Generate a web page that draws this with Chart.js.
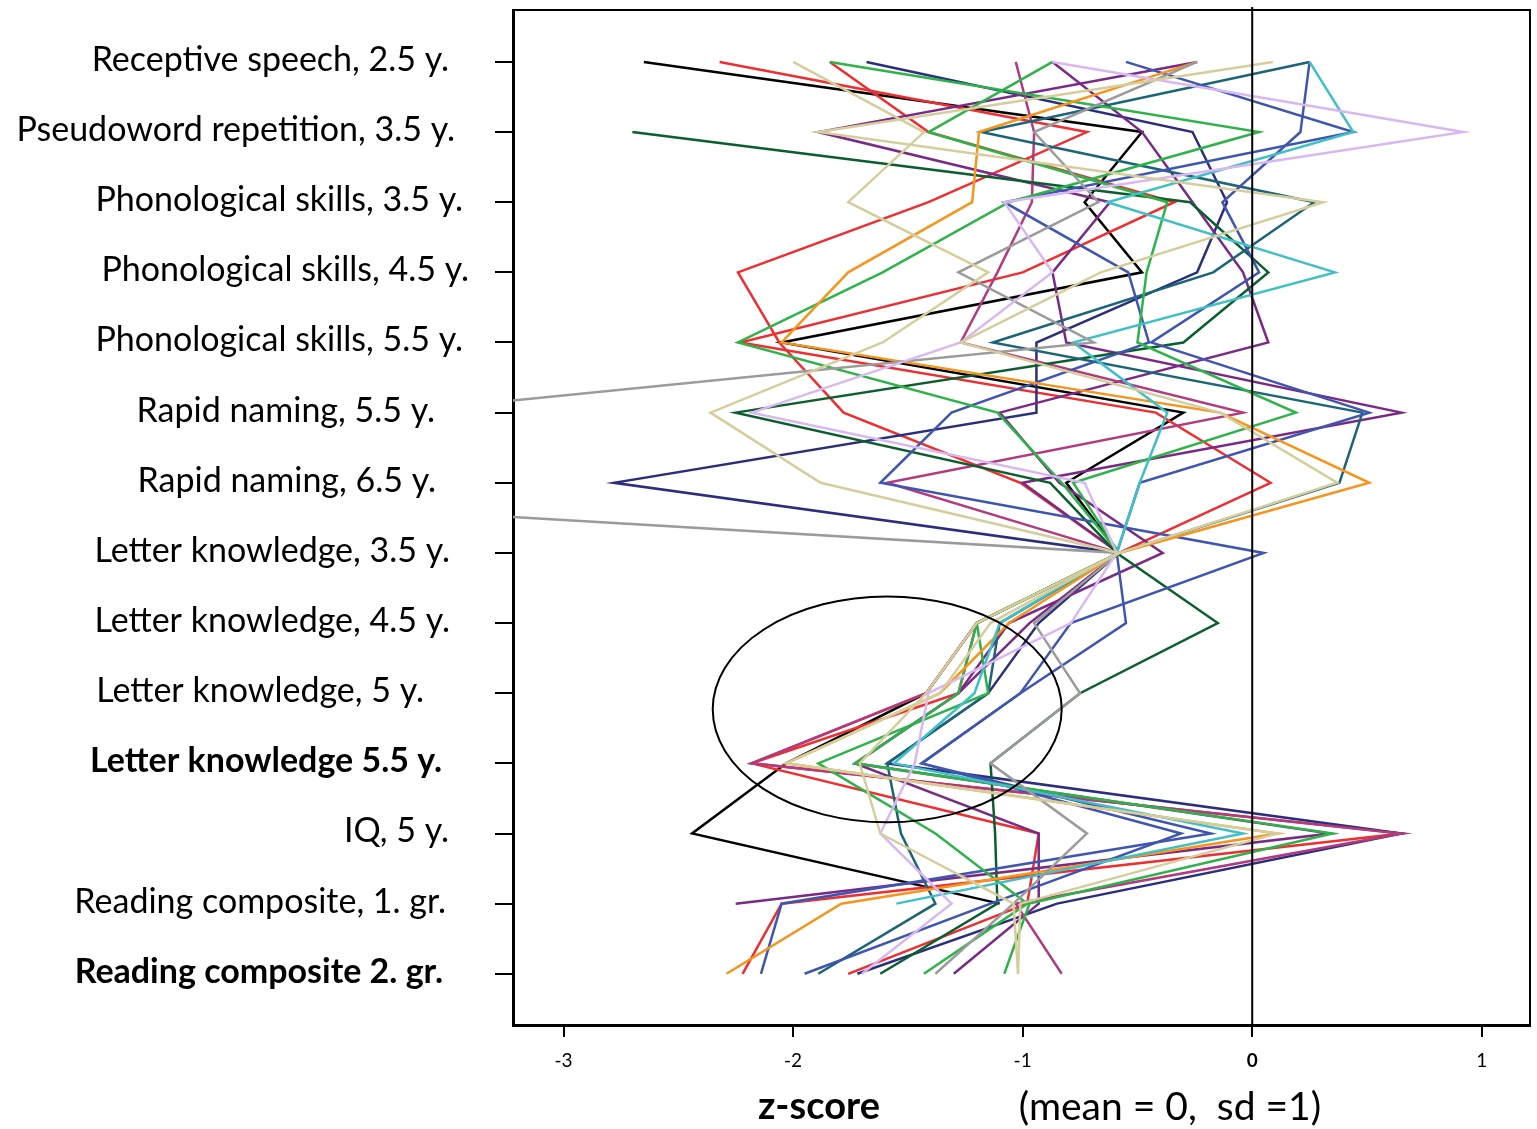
<!DOCTYPE html>
<html>
<head>
<meta charset="utf-8">
<script src="https://cdn.jsdelivr.net/npm/chart.js@4.4.1/dist/chart.umd.min.js"></script>
<style>
  html, body { margin: 0; padding: 0; background: #fff; }
  canvas { display: block; }
</style>
</head>
<body>
<canvas id="js-chart-profiles" width="1537" height="1129"></canvas>
<script>
// Rows of the profile (top to bottom)
const categories = [
  'Receptive speech, 2.5 y.',
  'Pseudoword repetition, 3.5 y.',
  'Phonological skills, 3.5 y.',
  'Phonological skills, 4.5 y.',
  'Phonological skills, 5.5 y.',
  'Rapid naming, 5.5 y.',
  'Rapid naming, 6.5 y.',
  'Letter knowledge, 3.5 y.',
  'Letter knowledge, 4.5 y.',
  'Letter knowledge, 5 y.',
  'Letter knowledge 5.5 y.',
  'IQ, 5 y.',
  'Reading composite, 1. gr.',
  'Reading composite 2. gr.'
];
const boldRows = [10, 13];
const zTicks = [-3, -2, -1, 0, 1];

// z-scores per child, one value per row
const black     = [-2.65, -0.48, -0.73, -0.48, -2.05, -0.30, -0.81, -0.58, -1.20, -1.42, -2.03, -2.44, -1.10, null];
const redA      = [-2.32, -0.72, -1.41, -2.24, -2.06, -1.78, -1.01, -0.58, -1.20, -1.28, -2.18, -0.93, -0.98, -1.76];
const redB      = [-1.84, -1.41, -0.34, -1.00, -2.23, -0.42, 0.08, -0.58, -1.20, -1.42, -2.18, 0.65, -2.05, -2.22];
const tanA      = [-2.00, -1.43, -1.76, -1.15, -1.61, -2.36, -1.88, -0.58, -1.20, -1.42, -1.71, -1.62, -1.04, -1.02];
const tanB      = [0.09, -1.89, 0.31, -0.66, -1.27, -0.14, 0.37, -0.58, -1.14, -1.36, -2.03, 0.11, -1.01, -1.02];
const greenA    = [-1.84, 0.03, -1.06, -1.61, -2.24, -1.11, -0.83, -0.58, -1.20, -1.15, -1.89, -1.38, -0.98, -1.43];
const greenB    = [-0.87, -1.41, -0.37, -0.46, -0.50, 0.19, -0.78, -0.58, -1.20, -1.28, -1.73, 0.35, -0.97, -1.08];
const navy      = [-1.68, -0.26, -0.11, -0.24, -0.94, -0.94, -2.78, -0.58, -0.93, -1.15, -1.59, 0.65, -0.85, -1.72];
const magenta   = [-1.03, -0.95, -0.96, -1.11, -1.27, -0.04, -1.59, -0.58, -1.20, -1.42, -2.18, 0.65, -1.03, -0.83];
const purpleA   = [-0.87, -0.48, -0.26, -0.04, 0.07, -1.10, -0.84, -0.39, -1.06, -1.28, -1.73, -0.93, -0.93, -1.30];
const purpleB   = [-0.24, -1.89, -0.62, -0.87, -0.81, 0.65, -1.00, -0.58, -0.97, -1.28, -1.73, 0.34, -2.25, null];
const lavender  = [-0.87, 0.92, -1.08, -0.87, -1.27, -2.18, -0.73, -0.59, -0.79, -1.41, -1.47, -1.62, -1.31, -1.70];
const blueA     = [-0.55, 0.44, -1.08, -0.54, -0.45, -1.31, -1.62, 0.05, -0.79, -1.01, -1.44, -0.18, -2.05, -2.14];
const blueB     = [0.25, 0.21, -0.13, 0.03, -0.44, 0.51, -0.49, -0.59, -0.55, -1.01, -1.44, -0.31, -1.14, -1.95];
const orange    = [-0.24, -1.19, -1.22, -1.76, -2.05, -0.14, 0.51, -0.58, -1.06, -1.36, -2.03, 0.11, -1.79, -2.29];
const gray      = [-0.24, -0.95, -0.67, -1.28, -0.69, -3.75, -5.72, -0.58, -0.95, -0.75, -1.14, -0.72, -1.04, -1.38];
const darkTeal  = [0.25, -1.18, 0.27, -0.17, -1.13, 0.48, 0.38, -0.58, -1.10, -1.15, -1.59, -1.53, -1.38, -1.89];
const cyan      = [0.25, 0.44, -0.63, 0.36, -0.78, -0.37, -0.49, -0.59, -1.10, -1.21, -1.56, -0.04, -1.55, null];
const darkGreen = [null, -2.70, -0.27, 0.07, -0.30, -2.25, -0.88, -0.59, -0.15, -0.75, -1.14, -1.12, -1.11, -1.62];

const series = [
  [tanA, '#d5ce9c'], [tanB, '#d5ce9c'], [lavender, '#d9b8f2'], [gray, '#9b9b9b'],
  [cyan, '#40c0c6'], [orange, '#f7941d'], [greenA, '#2db34a'], [greenB, '#2db34a'],
  [blueA, '#3f56b0'], [blueB, '#3f56b0'], [darkTeal, '#1c6477'], [darkGreen, '#0b5e2e'],
  [magenta, '#b23a7e'], [purpleA, '#7a2a86'], [purpleB, '#7a2a86'], [navy, '#2b2e7c'],
  [redA, '#ee2e31'], [redB, '#ee2e31'], [black, '#000000']
];

// the row labels were placed by hand in the original, so each has its own right edge
const labelRight = [449, 455, 463, 469, 463, 435, 436, 450, 450, 424, 442, 449, 446, 443];

let datasets = series.map(([values, color]) => ({
  data: values.map((v, i) => ({x: v, y: i})),
  borderColor: color,
  borderWidth: 2.5,
  pointRadius: 0,
  tension: 0,
  fill: false
}));

// Ellipse, zero line, frame, row labels and axis title
const profileExtras = {
  id: 'profileExtras',
  afterDatasetsDraw(chart) {
    const {ctx, chartArea: a, scales: {x, y}} = chart;
    ctx.save();
    ctx.strokeStyle = '#000';
    ctx.lineWidth = 2;

    let cx = x.getPixelForValue(-1.59), cy = y.getPixelForValue(9.23);
    let rx = x.getPixelForValue(-1.59 + 0.76) - cx;
    let ry = y.getPixelForValue(9.23 + 1.61) - cy;
    ctx.beginPath();
    ctx.ellipse(cx, cy, rx, Math.abs(ry), 0, 0, Math.PI * 2);
    ctx.stroke();

    let x0 = x.getPixelForValue(0);
    ctx.beginPath();
    ctx.moveTo(x0, a.top - 3);
    ctx.lineTo(x0, a.bottom);
    ctx.stroke();

    ctx.beginPath();
    ctx.moveTo(a.left, a.top);
    ctx.lineTo(a.right, a.top);
    ctx.lineTo(a.right, a.bottom);
    ctx.stroke();
    ctx.restore();
  },
  afterDraw(chart) {
    const {ctx, scales: {y}} = chart;
    ctx.save();
    ctx.fillStyle = '#000';
    ctx.textBaseline = 'middle';

    ctx.textAlign = 'right';
    categories.forEach((label, i) => {
      ctx.font = (boldRows.includes(i) ? 'bold ' : '') + '34px Lato';
      ctx.fillText(label, labelRight[i], y.getPixelForValue(i) - 2);
    });

    ctx.textAlign = 'center';
    ctx.font = 'bold 38px Lato';
    ctx.fillText('z-score', 819, 1107);
    ctx.font = '39px Lato';
    ctx.fillText('(mean = 0,  sd =1)', 1170, 1107);
    ctx.restore();
  }
};

let chartProfiles = new Chart(document.getElementById('js-chart-profiles'), {
  type: 'line',
  data: {datasets: datasets},
  plugins: [profileExtras],
  options: {
    responsive: false,
    animation: false,
    layout: {padding: {top: 10, right: 7, left: 0, bottom: 0}},
    plugins: {legend: {display: false}, tooltip: {enabled: false}},
    scales: {
      x: {
        type: 'linear',
        min: -3.22,
        max: 1.21,
        afterBuildTicks: axis => { axis.ticks = zTicks.map(v => ({value: v})); },
        afterFit: axis => { axis.height = 104; axis.paddingLeft = 0; axis.paddingRight = 0; },
        border: {display: true, color: '#000', width: 3},
        grid: {drawOnChartArea: false, drawTicks: true, tickLength: 12, color: '#000', lineWidth: 2},
        ticks: {
          color: '#000',
          padding: 12,
          font: ctx => ({family: 'Lato', size: 19, weight: ctx.tick && ctx.tick.value === 0 ? 'bold' : 'normal'}),
          callback: v => String(v)
        }
      },
      y: {
        type: 'linear',
        reverse: true,
        min: -0.74,
        max: 13.73,
        afterBuildTicks: axis => { axis.ticks = categories.map((_, i) => ({value: i})); },
        afterFit: axis => { axis.width = 513; axis.paddingTop = 0; axis.paddingBottom = 0; },
        border: {display: true, color: '#000', width: 3},
        grid: {drawOnChartArea: false, drawTicks: true, tickLength: 18, color: '#000', lineWidth: 2},
        ticks: {display: false}
      }
    }
  }
});
</script>
</body>
</html>
